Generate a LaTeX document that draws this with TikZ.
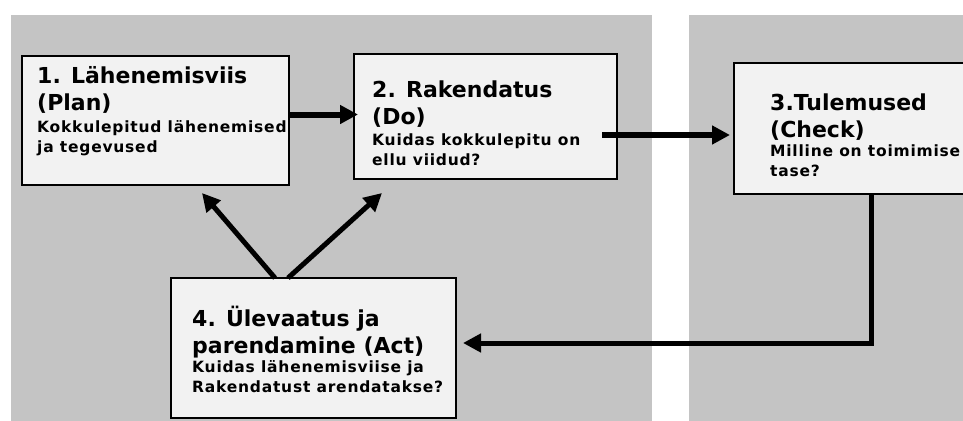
\documentclass[tikz,border=0pt]{standalone}
\usepackage{fontspec}
\setmainfont{DejaVu Sans}
\usetikzlibrary{arrows.meta}
\usetikzlibrary{positioning}
\usepackage{xcolor}
\definecolor{panelgrey}{HTML}{C4C4C4}
\definecolor{boxfill}{HTML}{F2F2F2}

\begin{document}
\begin{tikzpicture}[x=1pt, y=-1pt,
    stage/.style={rectangle, draw=black, line width=1.2pt, fill=boxfill,
      anchor=north west, inner sep=0pt, outer sep=0pt},
    ttl/.style={anchor=base west, inner sep=0pt, align=left,
      font=\fontsize{22}{27}\selectfont\bfseries},
    dsc/.style={anchor=base west, inner sep=0pt, align=left,
      font=\fontsize{15.5}{19.3}\selectfont\bfseries\addfontfeature{LetterSpace=5}},
    flow/.style={-{Triangle[length=18pt, width=18pt]}, line width=6pt},
    back/.style={flow, line width=5pt},
  ]

    \useasboundingbox (0,0) rectangle (963,420);
    \clip (0,0) rectangle (963,420);

    % Grey panels behind the cycle
    \fill[panelgrey] (11,15) rectangle (652,425);
    \fill[panelgrey] (689,15) rectangle (975,425);

    % Stages of the cycle
    \node[stage, minimum width=267pt, minimum height=129pt] (plan)  at (22,56)   {};
    \node[stage, minimum width=263pt, minimum height=125pt] (do)    at (354,54)  {};
    \node[stage, minimum width=274pt, minimum height=131pt] (check) at (734,63)  {};
    \node[stage, minimum width=285pt, minimum height=140pt] (act)   at (171,278) {};

    % Texts, placed by the baseline of their last line
    \node[ttl] (plant)  at (37,110)  {1. Lähenemisviis\\(Plan)};
    \node[dsc] (pland)  at (37,152)  {Kokkulepitud lähenemised\\ja tegevused};
    \node[ttl] (dot)    at (372,124) {2. Rakendatus\\(Do)};
    \node[dsc] (dod)    at (372,165) {Kuidas kokkulepitu on\\ellu viidud?};
    \node[ttl] (checkt) at (770,137) {3.Tulemused\\(Check)};
    \node[dsc] (checkd) at (770,176) {Milline on toimimise\\tase?};
    \node[ttl] (actt)   at (192,353) {4. Ülevaatus ja\\parendamine (Act)};
    \node[dsc] (actd)   at (192,392) {Kuidas lähenemisviise ja\\Rakendatust arendatakse?};

    % Forward arrows
    \draw[flow] ([yshift=6pt]plan.east) -- ([xshift=4pt, yshift=2pt]do.west);
    \draw[flow] ([xshift=-15pt, yshift=-18.5pt]do.east)
      -- ([xshift=-4pt, yshift=-6.5pt]check.west);
    \draw[back] (check.south) |- ([xshift=7pt, yshift=5pt]act.east);

    % Feedback from the review
    \draw[back] ([xshift=-38.5pt]act.north) -- ([xshift=46.5pt, yshift=-8pt]plan.south);
    \draw[back] ([xshift=-25.5pt]act.north) -- ([xshift=-103.5pt, yshift=-14pt]do.south);

  \end{tikzpicture}
\end{document}
